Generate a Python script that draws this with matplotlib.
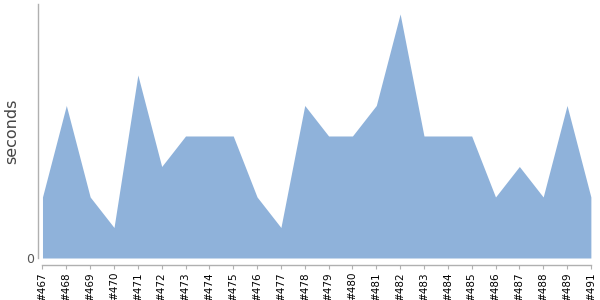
import numpy as np
import matplotlib.pyplot as plt

builds = ["#467", "#468", "#469", "#470", "#471", "#472", "#473", "#474",
          "#475", "#476", "#477", "#478", "#479", "#480", "#481", "#482",
          "#483", "#484", "#485", "#486", "#487", "#488", "#489", "#491"]
seconds = [2, 5, 2, 1, 6, 3, 4, 4, 4, 2, 1, 5, 4, 4, 5, 8, 4, 4, 4, 2, 3, 2, 5, 2]

fig = plt.figure(figsize=(6, 3), dpi=100)
ax = fig.add_axes([0.0708, 0.14, 0.914, 0.847])

x = np.arange(len(builds))
ax.fill_between(x, seconds, 0, color="#8fb2da", linewidth=0)

ax.set_xlim(0, len(builds) - 1)
ax.set_ylim(0, 8.33)

# Axis lines: offset a little, like the original
for side in ("top", "right"):
    ax.spines[side].set_visible(False)
ax.spines["left"].set_position(("outward", 3))
ax.spines["bottom"].set_position(("outward", 5))
ax.spines["bottom"].set_bounds(0, len(builds) - 1)
for side in ("left", "bottom"):
    ax.spines[side].set_color("#b0b0b0")
    ax.spines[side].set_linewidth(1)

ax.set_xticks(x)
ax.set_xticklabels(builds, rotation=90, fontsize=7.5, color="black")
ax.tick_params(axis="x", length=3, color="#b0b0b0", pad=2)

ax.set_yticks([0])
ax.set_yticklabels(["0"], fontsize=9, color="#555555")
ax.tick_params(axis="y", length=0, pad=3)

ax.set_ylabel("seconds", fontsize=11.5, color="#444444")
ax.yaxis.set_label_coords(-0.043, 0.5)

fig.savefig("out.png", dpi=100)
